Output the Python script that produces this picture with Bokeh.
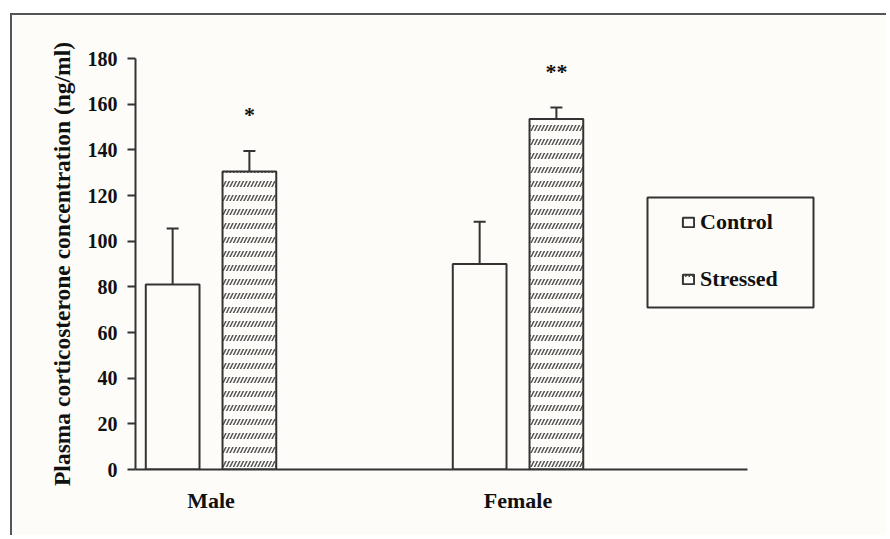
from bokeh.plotting import figure
from bokeh.models import (Range1d, FixedTicker, Whisker, ColumnDataSource, Legend,
                          LegendItem, BoxAnnotation, TeeHead)
from bokeh.core.properties import value
from bokeh.embed import file_html
from bokeh.resources import INLINE

# ---- data ----
categories = ["Male", "Female"]
group_pos = [1, 2]
control_mean = [81, 90]
control_err_top = [105.5, 108.5]
stressed_mean = [130.5, 153.5]
stressed_err_top = [139.5, 158.5]
significance = ["*", "**"]
y_ticks = [0, 20, 40, 60, 80, 100, 120, 140, 160, 180]

BG = "#fdfcf8"
INK = "#333333"
FONT = "Liberation Serif"
OFF = 0.125
BW = 0.175

W, H = 876, 522
X0, X_AXIS_END = 0.754, 2.748
X1 = X0 + (W - 123) / 307.0

p = figure(width=W, height=H, x_range=Range1d(X0, X1), y_range=Range1d(0, 180),
           output_backend="svg", toolbar_location=None,
           min_border_left=123, min_border_top=43, min_border_right=0, min_border_bottom=H - 43 - 411)
p.margin = (13, 0, 0, 10)
p.styles = {"border-top": "2px solid #555555", "border-left": "2px solid #555555"}
p.background_fill_color = BG
p.border_fill_color = BG
p.outline_line_color = None
p.xgrid.visible = False
p.ygrid.visible = False

xc = [g - OFF for g in group_pos]
xs = [g + OFF for g in group_pos]

rc = p.vbar(x=xc, top=control_mean, width=BW, fill_color=BG, line_color=INK, line_width=2)
r1 = p.vbar(x=xs, top=stressed_mean, width=BW, fill_color=BG, line_color=None,
            hatch_pattern="/", hatch_scale=7, hatch_color="#555555", hatch_weight=1.5)
r2 = p.vbar(x=xs, top=stressed_mean, width=BW, fill_alpha=0, line_color=INK, line_width=2,
            hatch_pattern="-", hatch_scale=14, hatch_weight=8, hatch_color=BG)

err_src = ColumnDataSource(dict(x=xc + xs, lower=control_mean + stressed_mean,
                                upper=control_err_top + stressed_err_top))
wh = Whisker(source=err_src, base="x", lower="lower", upper="upper", dimension="height",
             line_color=INK, line_width=2, lower_head=None,
             upper_head=TeeHead(size=12, line_color=INK, line_width=2))
p.add_layout(wh)

sig_y = [v + 16 for v in stressed_err_top]
p.text(x=xs, y=sig_y, text=significance, text_font=value(FONT), text_font_style="bold",
       text_font_size="22px", text_align="center", text_baseline="middle", text_color="#111111")

# axes
p.yaxis.ticker = FixedTicker(ticks=y_ticks)
p.yaxis.minor_tick_line_color = None
p.yaxis.major_tick_out = 8
p.yaxis.major_tick_in = 0
p.yaxis.major_tick_line_width = 2
p.yaxis.major_tick_line_color = INK
p.yaxis.axis_line_width = 2
p.yaxis.axis_line_color = INK
p.yaxis.major_label_text_font = FONT
p.yaxis.major_label_text_font_style = "bold"
p.yaxis.major_label_text_font_size = "20px"
p.yaxis.major_label_text_color = "#111111"
p.yaxis.major_label_standoff = 10
p.yaxis.axis_label = "Plasma corticosterone concentration (ng/ml)"
p.yaxis.axis_label_text_font = FONT
p.yaxis.axis_label_text_font_style = "bold"
p.yaxis.axis_label_text_font_size = "23.5px"
p.yaxis.axis_label_text_color = "#111111"
p.yaxis.axis_label_standoff = 10

p.xaxis.ticker = FixedTicker(ticks=group_pos)
p.xaxis.bounds = (X0, X_AXIS_END)
p.xaxis.major_label_overrides = {g: c for g, c in zip(group_pos, categories)}
p.xaxis.major_tick_line_color = None
p.xaxis.minor_tick_line_color = None
p.xaxis.axis_line_width = 2
p.xaxis.axis_line_color = INK
p.xaxis.major_label_text_font = FONT
p.xaxis.major_label_text_font_style = "bold"
p.xaxis.major_label_text_font_size = "22px"
p.xaxis.major_label_text_color = "#111111"
p.xaxis.major_label_standoff = 12

# legend (inside the extended frame)
legend = Legend(items=[LegendItem(label="Control", renderers=[rc]),
                       LegendItem(label="Stressed", renderers=[r1, r2])],
                location=(546, 177), border_line_color=None, background_fill_alpha=0,
                padding=0, margin=0, spacing=31, glyph_width=14, glyph_height=12,
                label_height=24, label_standoff=5, label_text_font=FONT,
                label_text_font_style="bold", label_text_font_size="22px",
                label_text_color="#111111")
p.add_layout(legend)

legend_box = BoxAnnotation(left=X0 + 512 / 307.0, right=X0 + 678 / 307.0,
                           top=(469 - 197) / (411 / 180.0), bottom=(469 - 307) / (411 / 180.0),
                           fill_alpha=0, line_color=INK, line_alpha=1, line_width=2, level="overlay")
p.add_layout(legend_box)

open("out.html", "w").write(file_html(p, INLINE))
